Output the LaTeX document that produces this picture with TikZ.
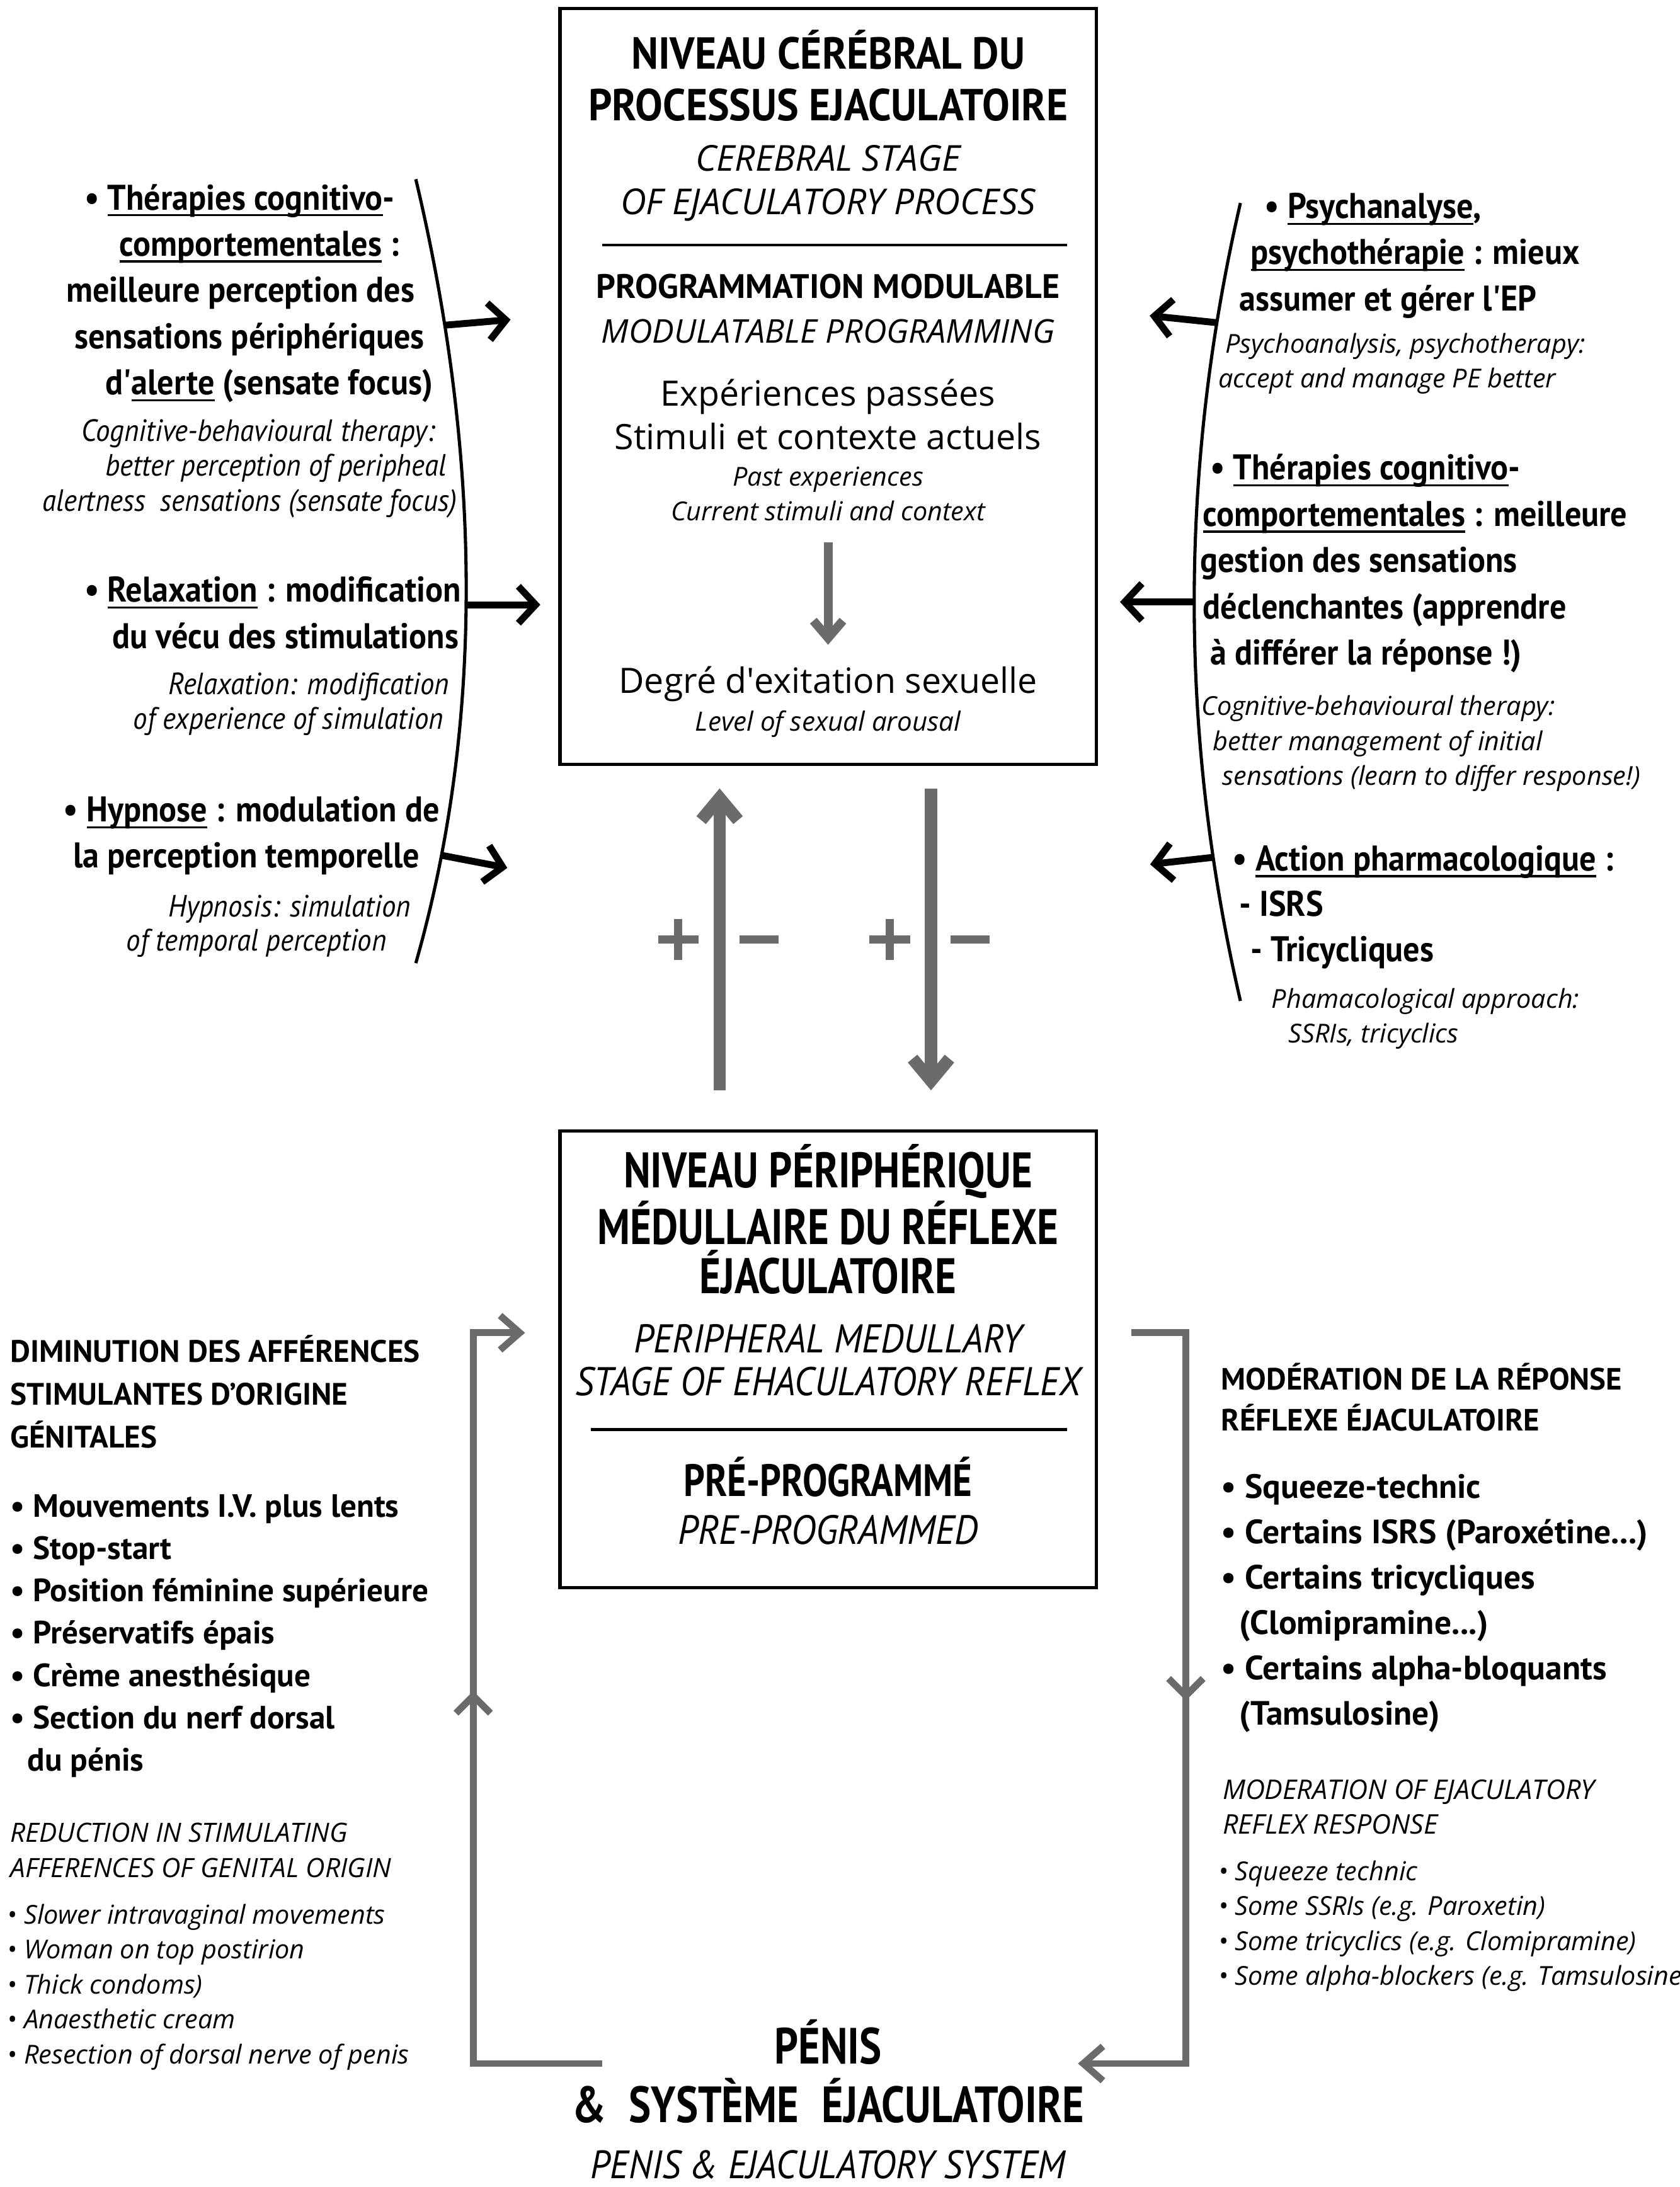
\documentclass[tikz,border=0pt]{standalone}
\usepackage{fontspec}
\setmainfont{PT Sans}
\newfontfamily\cnd[FakeStretch=0.82]{PT Sans}
\newfontfamily\nrw[FakeStretch=0.92]{PT Sans}
\newfontfamily\wid{Open Sans}
\usetikzlibrary{arrows.meta,decorations.markings}
\definecolor{fbgray}{HTML}{6B6B6B}
\newcommand{\undl}[1]{\setbox0\hbox{#1}\rlap{\rule[-2.6pt]{\wd0}{0.8pt}}\box0\relax}

\begin{document}
\begin{tikzpicture}[x=0.2mm,y=0.2mm,
  stagebox/.style={draw, line width=1.3pt, minimum width=76.6mm},
  titletext/.style={font=\nrw\bfseries\fontsize{18.2}{21}\selectfont, align=center, anchor=base},
  engcaps/.style={font=\wid\itshape\fontsize{14.5}{17.6}\selectfont, align=center, anchor=base},
  plaintext/.style={font=\wid\fontsize{14.2}{17.6}\selectfont, align=center, anchor=base},
  smallital/.style={font=\wid\itshape\fontsize{10.6}{14.2}\selectfont, align=center, anchor=base},
  condital/.style={font=\nrw\itshape\fontsize{16.3}{17.6}\selectfont, align=center, anchor=base},
  sidebold/.style={font=\nrw\bfseries\fontsize{14.5}{18.8}\selectfont, align=left, anchor=base west},
  sideital/.style={font=\nrw\itshape\fontsize{12.5}{14.2}\selectfont, align=left, anchor=base west},
  wideital/.style={font=\wid\itshape\fontsize{10.6}{14.2}\selectfont, align=left, anchor=base west},
  listhead/.style={font=\bfseries\fontsize{12.6}{17.4}\selectfont, align=left, anchor=base west},
  listbold/.style={font=\bfseries\fontsize{13.1}{17.2}\selectfont, align=left, anchor=base west},
  bracket/.style={line width=1.3pt},
  blkarrow/.style={line width=2.8pt, -{Straight Barb[sharp,length=7pt,width=15pt]}},
  bigarrow/.style={fbgray, line width=5pt, -{Straight Barb[sharp,length=9pt,width=15pt]}},
  innerarrow/.style={fbgray, line width=3.6pt, shorten <=3mm, shorten >=3mm, -{Straight Barb[sharp,length=7pt,width=12pt]}},
  fbloop/.style={fbgray, line width=2.8pt, line join=miter, -{Straight Barb[sharp,length=8pt,width=14pt]}},
  midtip/.style={postaction={decorate,decoration={markings,
    mark=at position #1 with {\arrow{Straight Barb[sharp,length=7pt,width=14pt]}}}}},
  plusminus/.pic={
    \draw[fbgray,line width=3.4pt] (-44,0) -- (-15,0) (-29.5,-14.5) -- (-29.5,14.5) (14,0) -- (42,0);
  }]
\tikzstyle{every node}+=[inner sep=0pt]
\useasboundingbox (0,0) rectangle (1200,-1562.2);

% cerebral level
\node[stagebox, minimum height=108mm] (cereb) at (591.5,-276) {};
\node[titletext] (cerebtitle) at (591.5,-86) {NIVEAU CÉRÉBRAL DU\\PROCESSUS EJACULATOIRE};
\node[engcaps] (cerebeng) at (591.5,-153) {CEREBRAL STAGE\\OF EJACULATORY PROCESS};
\draw[line width=1.2pt] (430,-175) -- (762,-175);
\node[font=\bfseries\fontsize{13.8}{16}\selectfont, anchor=base] (modprog) at (591.5,-213) {PROGRAMMATION MODULABLE};
\node[engcaps, font=\wid\itshape\fontsize{13.3}{16}\selectfont] (modprogeng) at (591.5,-245) {MODULATABLE PROGRAMMING};
\node[plaintext] (stimuli) at (591.5,-321) {Expériences passées\\Stimuli et contexte actuels};
\node[smallital] (stimulieng) at (591.5,-372) {Past experiences\\Current stimuli and context};
\node[plaintext] (arousal) at (591.5,-495) {Degré d\textquotesingle exitation sexuelle};
\node[smallital, font=\wid\itshape\fontsize{10.8}{14.2}\selectfont] (arousaleng) at (591.5,-522) {Level of sexual arousal};
\draw[innerarrow] (stimulieng) -- (arousal);

% peripheral level
\node[stagebox, minimum height=65.2mm] (periph) at (591.5,-971) {};
\node[titletext, font=\cnd\bfseries\fontsize{20.3}{19.9}\selectfont] (periphtitle) at (591.5,-924) {NIVEAU PÉRIPHÉRIQUE\\MÉDULLAIRE DU RÉFLEXE\\ÉJACULATOIRE};
\node[condital] (peripheng) at (591.5,-997) {PERIPHERAL MEDULLARY\\STAGE OF EHACULATORY REFLEX};
\draw[line width=1.2pt] (422,-1021) -- (762,-1021);
\node[titletext, font=\cnd\bfseries\fontsize{18.4}{20}\selectfont] (preprog) at (591.5,-1069) {PRÉ-PROGRAMMÉ};
\node[condital, font=\nrw\itshape\fontsize{16.6}{18}\selectfont] (preprogeng) at (591.5,-1103) {PRE-PROGRAMMED};

% up and down between the levels
\draw[bigarrow] ([xshift=-15.5mm,yshift=5.6mm]periph.north) -- ([xshift=-15.5mm,yshift=-3.2mm]cereb.south);
\draw[bigarrow] ([xshift=14.7mm,yshift=-3.2mm]cereb.south) -- ([xshift=14.7mm,yshift=5.6mm]periph.north);
\pic at (514,-671) {plusminus};
\pic at (665,-671) {plusminus};

% penis
\node[titletext, font=\cnd\bfseries\fontsize{20.7}{23.9}\selectfont] (penis) at (591.5,-1516) {PÉNIS\\\&\hspace{0.45em}SYSTÈME\hspace{0.45em}ÉJACULATOIRE};
\node[condital, font=\nrw\itshape\fontsize{16.1}{17}\selectfont] (peniseng) at (591.5,-1556) {PENIS \& EJACULATORY SYSTEM};

% left therapies
\draw[bracket] (297,-128) .. controls (345,-330) and (345,-520) .. (297,-688)
  coordinate[pos=0.174] (lcbt) coordinate[pos=0.52] (lrelax) coordinate[pos=0.85] (lhypno);
\draw[blkarrow] (lcbt) -- ++(47,4);
\draw[blkarrow] (lrelax) -- ++(53,0);
\draw[blkarrow] (lhypno) -- ++(47,-9);
\node[sidebold] (cbtleft) at (47,-282) {\hspace*{7.4pt}• \undl{Thérapies cognitivo}-\\\hspace*{21.6pt}\undl{comportementales} :\\meilleure perception des\\\hspace*{3.4pt}sensations périphériques\\\hspace*{15.9pt}d'\undl{alerte} (sensate focus)};
\node[sideital] (cbtlefteng) at (30,-365) {\hspace*{15.9pt}Cognitive-behavioural therapy:\\\hspace*{25.6pt}better perception of peripheal\\alertness\ \ sensations (sensate focus)};
\node[sidebold] (relax) at (60,-463) {• \undl{Relaxation} : modification\\\hspace*{11.4pt}du vécu des stimulations};
\node[sideital] (relaxeng) at (95,-521) {\hspace*{14.2pt}Relaxation: modification\\of experience of simulation};
\node[sidebold] (hypno) at (45,-620) {• \undl{Hypnose} : modulation de\\\hspace*{4pt}la perception temporelle};
\node[sideital, font=\nrw\itshape\fontsize{12.5}{13.7}\selectfont] (hypnoeng) at (90,-679) {\hspace*{17.1pt}Hypnosis: simulation\\of temporal perception};

% right therapies
\draw[bracket] (886,-145) .. controls (842,-335) and (842,-525) .. (886,-715)
  coordinate[pos=0.15] (rpsy) coordinate[pos=0.5] (rcbt) coordinate[pos=0.82] (rpharm);
\draw[blkarrow] (rpsy) -- ++(-48,5);
\draw[blkarrow] (rcbt) -- ++(-53,0);
\draw[blkarrow] (rpharm) -- ++(-45,-5);
\node[sidebold] (psy) at (885,-222) {\hspace*{10.2pt}• \undl{Psychanalyse},\\\hspace*{4.6pt}\undl{psychothérapie} : mieux\\assumer et gérer l'EP};
\node[wideital] (psyeng) at (870,-277) {\hspace*{2.8pt}Psychoanalysis, psychotherapy:\\accept and manage PE better};
\node[sidebold] (cbtright) at (857,-475) {\hspace*{4pt}• \undl{Thérapies cognitivo}-\\\hspace*{1.1pt}\undl{comportementales} : meilleure\\gestion des sensations\\\hspace*{1.1pt}déclenchantes (apprendre\\\hspace*{4pt}à différer la réponse !)};
\node[wideital] (cbtrighteng) at (858,-561) {Cognitive-behavioural therapy:\\\hspace*{4.6pt}better management of initial\\\hspace*{8.5pt}sensations (learn to differ response!)};
\node[sidebold, font=\nrw\bfseries\fontsize{14.5}{18.5}\selectfont] (pharm) at (880,-687) {• \undl{Action pharmacologique} :\\\hspace*{2.8pt}- ISRS\\\hspace*{7.4pt}- Tricycliques};
\node[wideital] (pharmeng) at (908,-745) {Phamacological approach:\\\hspace*{6.8pt}SSRIs, tricyclics};

% feedback loops
\coordinate (loopLout) at (430,-1474);
\coordinate (loopLin) at (375,-952);
\draw[fbloop, midtip=0.55] (loopLout) -- ++(-92,0) |- (loopLin);
\coordinate (loopRout) at (808,-952);
\coordinate (loopRin) at (770,-1474);
\draw[fbloop, midtip=0.473] (loopRout) -- ++(39,0) |- (loopRin);

% afferences
\node[listhead] (reduchead) at (7,-1034) {DIMINUTION DES AFFÉRENCES\\STIMULANTES D'ORIGINE\\GÉNITALES};
\node[listbold] (reducitems) at (7,-1265) {• Mouvements I.V. plus lents\\• Stop-start\\• Position féminine supérieure\\• Préservatifs épais\\• Crème anesthésique\\• Section du nerf dorsal\\\hspace*{7pt}du pénis};
\node[wideital, font=\wid\itshape\fontsize{10.8}{14.2}\selectfont] (reduceng) at (7,-1341) {REDUCTION IN STIMULATING\\AFFERENCES OF GENITAL ORIGIN};
\node[wideital] (reducengitems) at (5,-1474) {• Slower intravaginal movements\\• Woman on top postirion\\• Thick condoms)\\• Anaesthetic cream\\• Resection of dorsal nerve of penis};

% moderation
\node[listhead, font=\bfseries\fontsize{12.5}{16.5}\selectfont] (modhead) at (872,-1022) {MODÉRATION DE LA RÉPONSE\\RÉFLEXE ÉJACULATOIRE};
\node[listbold, font=\bfseries\fontsize{13.7}{18.4}\selectfont] (moditems) at (872,-1232) {• Squeeze-technic\\• Certains ISRS (Paroxétine...)\\• Certains tricycliques\\\hspace*{7.4pt}(Clomipramine...)\\• Certains alpha-bloquants\\\hspace*{7.4pt}(Tamsulosine)};
\node[wideital, font=\wid\itshape\fontsize{11}{14.2}\selectfont] (modeng) at (873,-1310) {MODERATION OF EJACULATORY\\REFLEX RESPONSE};
\node[wideital] (modengitems) at (870,-1418) {• Squeeze technic\\• Some SSRIs (e.g. Paroxetin)\\• Some tricyclics (e.g. Clomipramine)\\• Some alpha-blockers (e.g. Tamsulosine};
\end{tikzpicture}
\end{document}
